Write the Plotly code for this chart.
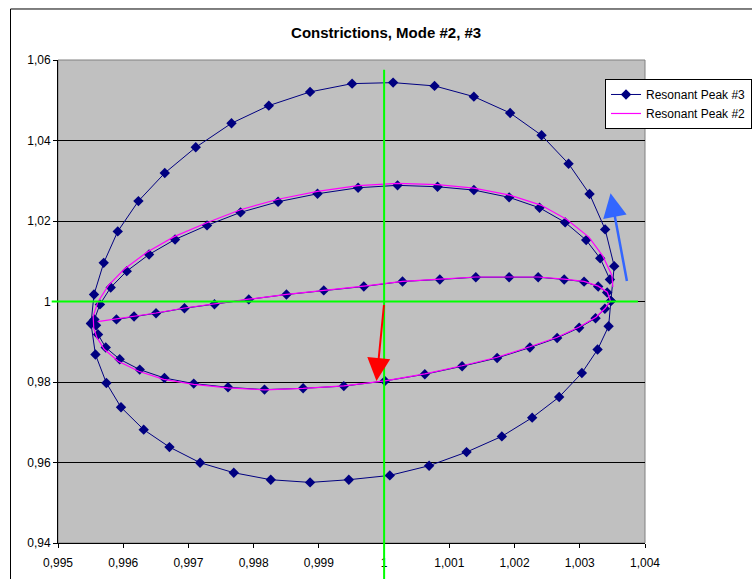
import plotly.graph_objects as go

# ---------------- data ----------------
# Resonant Peak #3 : outer loop
p3_outer_x = [0.995506, 0.995552, 0.995701, 0.995916, 0.996233, 0.996637, 0.997112, 0.997660,
              0.998232, 0.998865, 0.999509, 1.000138, 1.000773, 1.001376, 1.001932, 1.002414,
              1.002828, 1.003150, 1.003389, 1.003528, 1.003477, 1.003442, 1.003273, 1.003032,
              1.002684, 1.002270, 1.001805, 1.001264, 1.000690, 1.000087, 0.999459, 0.998865,
              0.998262, 0.997695, 0.997178, 0.996709, 0.996314, 0.995966, 0.995742, 0.995574,
              0.995506]
p3_outer_y = [0.99453, 1.00174, 1.00960, 1.01741, 1.02495, 1.03192, 1.03831, 1.04428,
              1.04866, 1.05207, 1.05413, 1.05438, 1.05356, 1.05090, 1.04684, 1.04129,
              1.03423, 1.02669, 1.01791, 1.00878, 1.00015, 0.99386, 0.98806, 0.98224,
              0.97627, 0.97114, 0.96649, 0.96259, 0.95920, 0.95679, 0.95572, 0.95505,
              0.95572, 0.95746, 0.95995, 0.96383, 0.96816, 0.97371, 0.97975, 0.98682,
              0.99453]

# Resonant Peak #3 : inner shape (upper arc, lower arc, middle arc)
p3_upper_x = [1.003462, 1.003313, 1.003098, 1.002776, 1.002383, 1.001917, 1.001376, 1.000819,
              1.000206, 0.999601, 0.998979, 0.998374, 0.997798, 0.997285, 0.996795, 0.996396,
              0.996054, 0.995808, 0.995643, 0.995558, 0.995583]
p3_upper_y = [1.00547, 1.01072, 1.01525, 1.01965, 1.02328, 1.02587, 1.02769, 1.02851,
              1.02886, 1.02826, 1.02677, 1.02478, 1.02214, 1.01891, 1.01542, 1.01169,
              1.00754, 1.00348, 0.99928, 0.99552, 0.99410]
p3_lower_x = [0.995614, 0.995732, 0.995946, 0.996253, 0.996632, 0.997081, 0.997607, 0.998166,
              0.998758, 0.999382, 1.000011, 1.000624, 1.001196, 1.001733, 1.002235, 1.002653,
              1.002991, 1.003242, 1.003385, 1.003477]
p3_lower_y = [0.99179, 0.98856, 0.98565, 0.98308, 0.98099, 0.97960, 0.97868, 0.97811,
              0.97843, 0.97898, 0.98025, 0.98192, 0.98391, 0.98597, 0.98856, 0.99095,
              0.99348, 0.99585, 0.99821, 1.00015]
p3_middle_x = [1.003420, 1.003282, 1.003066, 1.002761, 1.002362, 1.001917, 1.001406, 1.000854,
               1.000282, 0.999689, 0.999075, 0.998503, 0.997925, 0.997399, 0.996939, 0.996503,
               0.996166, 0.995896]
p3_middle_y = [1.00224, 1.00373, 1.00493, 1.00547, 1.00604, 1.00604, 1.00604, 1.00547,
               1.00498, 1.00373, 1.00276, 1.00174, 1.00052, 0.99933, 0.99833, 0.99709,
               0.99627, 0.99555]

# Resonant Peak #2 (line only)
p2_x = [1.003508, 1.003492, 1.003354, 1.003140, 1.002802, 1.002403, 1.001928, 1.001376,
        1.000819, 1.000206, 0.999601, 0.998979, 0.998374, 0.997798, 0.997281, 0.996782,
        0.996376, 0.996023, 0.995770, 0.995609, 0.995540, 0.995548, 0.995594,
        0.995709, 0.995923, 0.996238, 0.996621, 0.997081, 0.997607, 0.998166, 0.998758,
        0.999382, 1.000011, 1.000624, 1.001196, 1.001733, 1.002235, 1.002653, 1.002991,
        1.003247, 1.003393, 1.003469,
        1.003423, 1.003282, 1.003066, 1.002761, 1.002362, 1.001917, 1.001406, 1.000854,
        1.000282, 0.999689, 0.999075, 0.998503, 0.997925, 0.997399, 0.996939, 0.996503,
        0.996166, 0.995896, 0.995609]
p2_y = [1.00356, 1.00654, 1.01127, 1.01600, 1.02035, 1.02396, 1.02644, 1.02818,
        1.02906, 1.02935, 1.02881, 1.02736, 1.02540, 1.02279, 1.01958, 1.01612,
        1.01239, 1.00816, 1.00393, 0.99983, 0.99634, 0.99336, 0.99112,
        0.98813, 0.98515, 0.98266, 0.98067, 0.97943, 0.97856, 0.97806, 0.97843,
        0.97905, 0.98030, 0.98204, 0.98403, 0.98614, 0.98876, 0.99112, 0.99366,
        0.99609, 0.99838, 1.00020,
        1.00231, 1.00381, 1.00498, 1.00555, 1.00609, 1.00614, 1.00609, 1.00555,
        1.00500, 1.00381, 1.00281, 1.00177, 1.00057, 0.99938, 0.99838, 0.99714,
        0.99629, 0.99560, 0.99498]

x_tick_vals = [0.995, 0.996, 0.997, 0.998, 0.999, 1.000, 1.001, 1.002, 1.003, 1.004]
x_tick_text = ["0,995", "0,996", "0,997", "0,998", "0,999", "1", "1,001", "1,002", "1,003", "1,004"]
y_tick_vals = [0.94, 0.96, 0.98, 1.00, 1.02, 1.04, 1.06]
y_tick_text = ["0,94", "0,96", "0,98", "1", "1,02", "1,04", "1,06"]

# arrows (tail -> head) and reference cross lines
red_arrow = dict(tail=(1.0000, 0.9995), head=(0.999883, 0.98025))
blue_arrow = dict(tail=(1.003727, 1.004726), head=(1.003472, 1.026866))
cross_x = 1.0
cross_y = 1.0

# ---------------- figure ----------------
FONT = "Liberation Sans, Arial, sans-serif"

p3_x = p3_outer_x + [None] + p3_upper_x + p3_lower_x + p3_middle_x
p3_y = p3_outer_y + [None] + p3_upper_y + p3_lower_y + p3_middle_y

fig = go.Figure()
fig.add_trace(go.Scatter(
    x=p3_x, y=p3_y, mode="lines+markers", name="Resonant Peak #3",
    line=dict(color="#000080", width=1),
    marker=dict(symbol="diamond", size=8, color="#000080", line=dict(width=0)),
    connectgaps=False,
))
fig.add_trace(go.Scatter(
    x=p2_x, y=p2_y, mode="lines", name="Resonant Peak #2",
    line=dict(color="#FF00FF", width=1.2),
))

shapes = [
    # outer chart frame
    dict(type="rect", xref="paper", yref="paper", x0=-0.0809, x1=1.25, y0=-0.2, y1=1.1056,
         line=dict(color="black", width=1), fillcolor="rgba(0,0,0,0)", layer="below"),
    # plot-area border
    dict(type="rect", xref="paper", yref="paper", x0=0, x1=1, y0=0, y1=1,
         line=dict(color="#808080", width=1), fillcolor="rgba(0,0,0,0)", layer="below"),
    # green cross lines
    dict(type="line", xref="x", yref="paper", x0=cross_x, x1=cross_x, y0=-0.1, y1=0.98,
         line=dict(color="#00FF00", width=2), layer="above"),
    dict(type="line", xref="paper", yref="y", x0=-0.0107, x1=0.988, y0=cross_y, y1=cross_y,
         line=dict(color="#00FF00", width=2), layer="above"),
]

annotations = [
    dict(x=red_arrow["head"][0], y=red_arrow["head"][1], ax=red_arrow["tail"][0], ay=red_arrow["tail"][1],
         xref="x", yref="y", axref="x", ayref="y", text="", showarrow=True,
         arrowhead=2, arrowsize=2.3, arrowwidth=2, arrowcolor="#FF0000", standoff=0),
    dict(x=blue_arrow["head"][0], y=blue_arrow["head"][1], ax=blue_arrow["tail"][0], ay=blue_arrow["tail"][1],
         xref="x", yref="y", axref="x", ayref="y", text="", showarrow=True,
         arrowhead=2, arrowsize=1.9, arrowwidth=2.5, arrowcolor="#3366FF", standoff=0),
]

fig.update_layout(
    width=752, height=579,
    margin=dict(l=58, r=107, t=60, b=36, autoexpand=False),
    paper_bgcolor="white", plot_bgcolor="#C0C0C0",
    font=dict(family=FONT, size=12, color="black"),
    title=dict(text="Constrictions, Mode #2, #3", x=0.559, xref="paper", xanchor="center",
               y=1 - 33 / 579, yref="container", yanchor="middle",
               font=dict(family=FONT, size=15, color="black", weight="bold")),
    showlegend=True,
    legend=dict(x=0.9319, y=0.9607, xanchor="left", yanchor="top",
                bgcolor="white", bordercolor="black", borderwidth=1,
                font=dict(family=FONT, size=12, color="black")),
    shapes=shapes,
    annotations=annotations,
)
fig.update_xaxes(range=[0.995, 1.004], tickvals=x_tick_vals, ticktext=x_tick_text,
                 showgrid=False, zeroline=False, showline=True, linecolor="black", linewidth=1,
                 ticks="outside", ticklen=4, tickcolor="black", tickfont=dict(size=12),
                 ticklabelstandoff=5)
fig.update_yaxes(range=[0.94, 1.06], tickvals=y_tick_vals, ticktext=y_tick_text,
                 showgrid=True, gridcolor="black", gridwidth=1, zeroline=False,
                 showline=True, linecolor="black", linewidth=1,
                 ticks="outside", ticklen=4, tickcolor="black", tickfont=dict(size=12))

fig.write_html("out.html")
